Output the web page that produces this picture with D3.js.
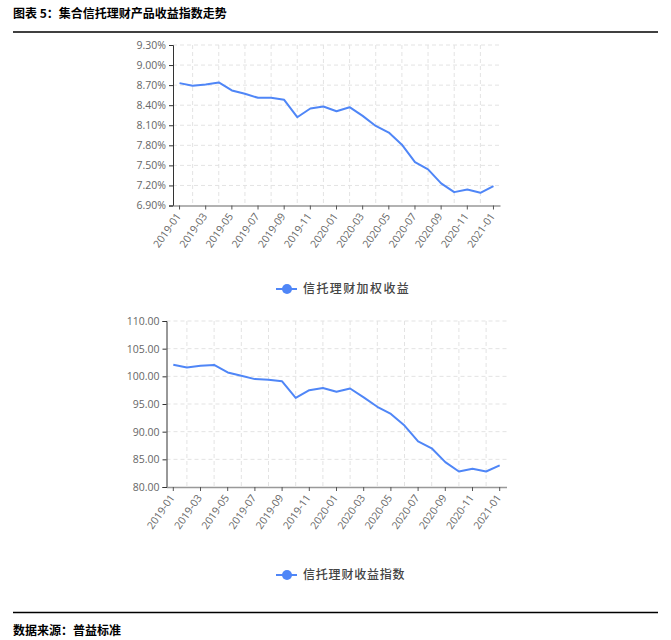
<!DOCTYPE html>
<html>

<head>
  <meta charset="utf-8">
  <title>集合信托理财产品收益指数走势</title>
  <style>
    body {
      margin: 0;
      background: #fff;
    }

    .tick text {
      font-family: "Open Sans", "Noto Sans", sans-serif;
      fill: #666;
    }

    .cn {
      font-family: "Noto Sans CJK SC", serif;
    }
  </style>
</head>

<body>
  <svg></svg>
  <script src="https://cdnjs.cloudflare.com/ajax/libs/d3/7.8.5/d3.min.js"></script>
  <script>
    var width = 671,
      height = 640;

    // months 2019-01 .. 2021-01
    var months = ["2019-01", "2019-02", "2019-03", "2019-04", "2019-05", "2019-06", "2019-07", "2019-08",
      "2019-09", "2019-10", "2019-11", "2019-12", "2020-01", "2020-02", "2020-03", "2020-04",
      "2020-05", "2020-06", "2020-07", "2020-08", "2020-09", "2020-10", "2020-11", "2020-12", "2021-01"];

    // 信托理财加权收益 (%)
    var weightedYield = [8.73, 8.69, 8.71, 8.74, 8.62, 8.57, 8.51, 8.51, 8.48, 8.22, 8.35, 8.38, 8.31,
      8.37, 8.24, 8.09, 7.99, 7.81, 7.55, 7.44, 7.23, 7.10, 7.14, 7.09, 7.19];

    // 信托理财收益指数
    var yieldIndex = [102.1, 101.6, 101.9, 102.05, 100.7, 100.1, 99.5, 99.4, 99.1, 96.1, 97.5, 97.9, 97.2,
      97.8, 96.2, 94.5, 93.2, 91.1, 88.25, 87.0, 84.5, 82.8, 83.3, 82.8, 83.9];

    var yTicks1 = [6.9, 7.2, 7.5, 7.8, 8.1, 8.4, 8.7, 9.0, 9.3];
    var yTicks2 = [80, 85, 90, 95, 100, 105, 110];

    var lineColor = "#4f86f7";

    var svg = d3.select("svg").attr("width", width).attr("height", height);

    // header / footer
    svg.append("text").attr("class", "cn")
      .attr("x", 13).attr("y", 18)
      .attr("font-size", 12).attr("font-weight", "bold").attr("fill", "#000")
      .text("图表 5：集合信托理财产品收益指数走势");
    svg.append("line").attr("x1", 13).attr("x2", 658).attr("y1", 32).attr("y2", 32)
      .attr("stroke", "#000").attr("stroke-width", 1.3);
    svg.append("line").attr("x1", 13).attr("x2", 658).attr("y1", 612.5).attr("y2", 612.5)
      .attr("stroke", "#000").attr("stroke-width", 1.3);
    svg.append("text").attr("class", "cn")
      .attr("x", 13).attr("y", 635)
      .attr("font-size", 12).attr("font-weight", "bold").attr("fill", "#000")
      .text("数据来源：普益标准");

    function drawChart(opt) {
      var x = d3.scaleBand().domain(months).range([opt.left, opt.right]);
      var y = d3.scaleLinear().domain(opt.domain).range([opt.bottom, opt.top]);
      var cx = d => x(d) + x.bandwidth() / 2;
      var g = svg.append("g");

      // horizontal grid
      g.selectAll(".hgrid").data(opt.yTicks.slice(1))
        .enter().append("line")
        .attr("x1", opt.left).attr("x2", opt.right)
        .attr("y1", d => y(d)).attr("y2", d => y(d))
        .attr("stroke", "#e3e3e3").attr("stroke-dasharray", "4,3");

      // vertical grid at odd months
      g.selectAll(".vgrid").data(months.filter((d, i) => i % 2 == 1))
        .enter().append("line")
        .attr("x1", cx).attr("x2", cx)
        .attr("y1", opt.top).attr("y2", opt.bottom)
        .attr("stroke", "#e3e3e3").attr("stroke-dasharray", "4,3");

      // y axis
      var yAxis = g.append("g")
        .attr("transform", "translate(" + opt.left + ",0)")
        .call(d3.axisLeft(y).tickValues(opt.yTicks).tickSize(4).tickPadding(3).tickFormat(opt.fmt));
      yAxis.selectAll("text").attr("font-size", 10.5);
      yAxis.select(".domain").attr("stroke", "#333");
      yAxis.selectAll(".tick line").attr("stroke", "#333");

      // x axis
      var xAxis = g.append("g")
        .attr("transform", "translate(0," + opt.bottom + ")")
        .call(d3.axisBottom(x).tickValues(months.filter((d, i) => i % 2 == 0)).tickSize(4).tickSizeOuter(0));
      xAxis.select(".domain").attr("stroke", "#999").attr("stroke-width", 1.5);
      xAxis.selectAll(".tick line").attr("stroke", "#555");
      xAxis.selectAll("text")
        .attr("font-size", 10.5)
        .attr("text-anchor", "end")
        .attr("dy", "0.35em")
        .attr("transform", "translate(0,7) rotate(-55)")
        .attr("x", -2).attr("y", 0);

      // series line
      g.append("path").datum(opt.values)
        .attr("fill", "none")
        .attr("stroke", lineColor)
        .attr("stroke-width", 2)
        .attr("stroke-linejoin", "round")
        .attr("d", d3.line().x((d, i) => cx(months[i])).y(d => y(d)));

      // legend
      var lg = svg.append("g").attr("transform", "translate(0," + opt.legendY + ")");
      lg.append("line").attr("x1", 276).attr("x2", 297).attr("y1", 0).attr("y2", 0)
        .attr("stroke", lineColor).attr("stroke-width", 2);
      lg.append("circle").attr("cx", 287).attr("cy", 0).attr("r", 5).attr("fill", lineColor);
      lg.append("text").attr("class", "cn")
        .attr("x", 303).attr("y", 0).attr("dy", "0.36em")
        .attr("font-size", 12).attr("font-weight", "500").attr("fill", "#444")
        .attr("letter-spacing", opt.spacing)
        .text(opt.label);
    }

    drawChart({
      left: 173, right: 500, top: 45, bottom: 205.5,
      domain: [6.9, 9.3], yTicks: yTicks1,
      fmt: d => d.toFixed(2) + "%",
      values: weightedYield,
      legendY: 289, label: "信托理财加权收益", spacing: 1.4
    });

    drawChart({
      left: 166.5, right: 506.5, top: 321, bottom: 487,
      domain: [80, 110], yTicks: yTicks2,
      fmt: d => d.toFixed(2),
      values: yieldIndex,
      legendY: 575, label: "信托理财收益指数", spacing: 0.8
    });
  </script>
</body>

</html>
